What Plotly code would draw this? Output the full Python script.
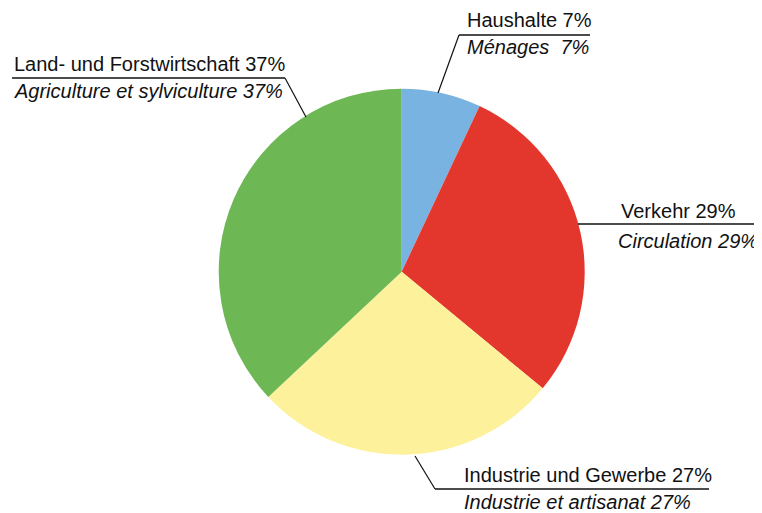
import plotly.graph_objects as go

# Data
categories_de = ["Haushalte", "Verkehr", "Industrie und Gewerbe", "Land- und Forstwirtschaft"]
categories_fr = ["Ménages ", "Circulation", "Industrie et artisanat", "Agriculture et sylviculture"]
shares = [7, 29, 27, 37]
colors = ["#79b3e1", "#e3372e", "#fdf19c", "#6db755"]

W, H = 762, 513
# the page body has a default 8px margin; compensate so window pixels line up
OX, OY = 8, 8

def px(x):
    return (x - OX) / W

def py(y):
    return 1 - (y - OY) / H

CX, CY, R = 401.7, 271.7, 183

fig = go.Figure(go.Pie(
    labels=categories_de,
    values=shares,
    sort=False,
    direction="clockwise",
    rotation=0,
    marker=dict(colors=colors, line=dict(width=0)),
    textinfo="none",
    hoverinfo="label+percent",
    showlegend=False,
    domain=dict(x=[px(CX - R), px(CX + R)],
                y=[py(CY + R), py(CY - R)]),
))

FONT = "Liberation Sans, Arial, sans-serif"
FS = 20

# label layout: (x_left, y line1 center, y line2 center, underline y, underline x0, x1,
#                leader points, line2 right anchor or None)
labels = [
    (465, 20, 47, 35, 459, 590, [(459, 35), (438, 93)], None),
    (619, 211, 241, 224, 578, 762, [], 760),
    (462, 475, 502, 489, 435, 709, [(435, 489), (415, 456)], None),
    (12, 64, 91, 78, 12, 285, [(285, 78), (306, 117)], None),
]

annotations = []
shapes = []
for i, (xl, y1, y2, uy, ux0, ux1, leader, xr) in enumerate(labels):
    annotations.append(dict(
        x=px(xl), y=py(y1), xref="paper", yref="paper", xanchor="left", yanchor="middle",
        text=f"{categories_de[i]} {shares[i]}%", showarrow=False,
        font=dict(family=FONT, size=FS, color="#111111")))
    annotations.append(dict(
        x=px(xr if xr else xl), y=py(y2), xref="paper", yref="paper",
        xanchor="right" if xr else "left", yanchor="middle",
        text=f"<i>{categories_fr[i]} {shares[i]}%</i>", showarrow=False,
        font=dict(family=FONT, size=FS, color="#111111")))
    shapes.append(dict(type="line", xref="paper", yref="paper",
                       x0=px(ux0), x1=px(ux1), y0=py(uy), y1=py(uy),
                       line=dict(color="#111111", width=1.5)))
    if leader:
        (a, b), (c, d) = leader
        shapes.append(dict(type="line", xref="paper", yref="paper",
                           x0=px(a), y0=py(b), x1=px(c), y1=py(d),
                           line=dict(color="#111111", width=1.2)))

fig.update_layout(
    width=W, height=H,
    margin=dict(l=0, r=0, t=0, b=0),
    paper_bgcolor="white", plot_bgcolor="white",
    annotations=annotations, shapes=shapes,
)

fig.write_html("out.html")
